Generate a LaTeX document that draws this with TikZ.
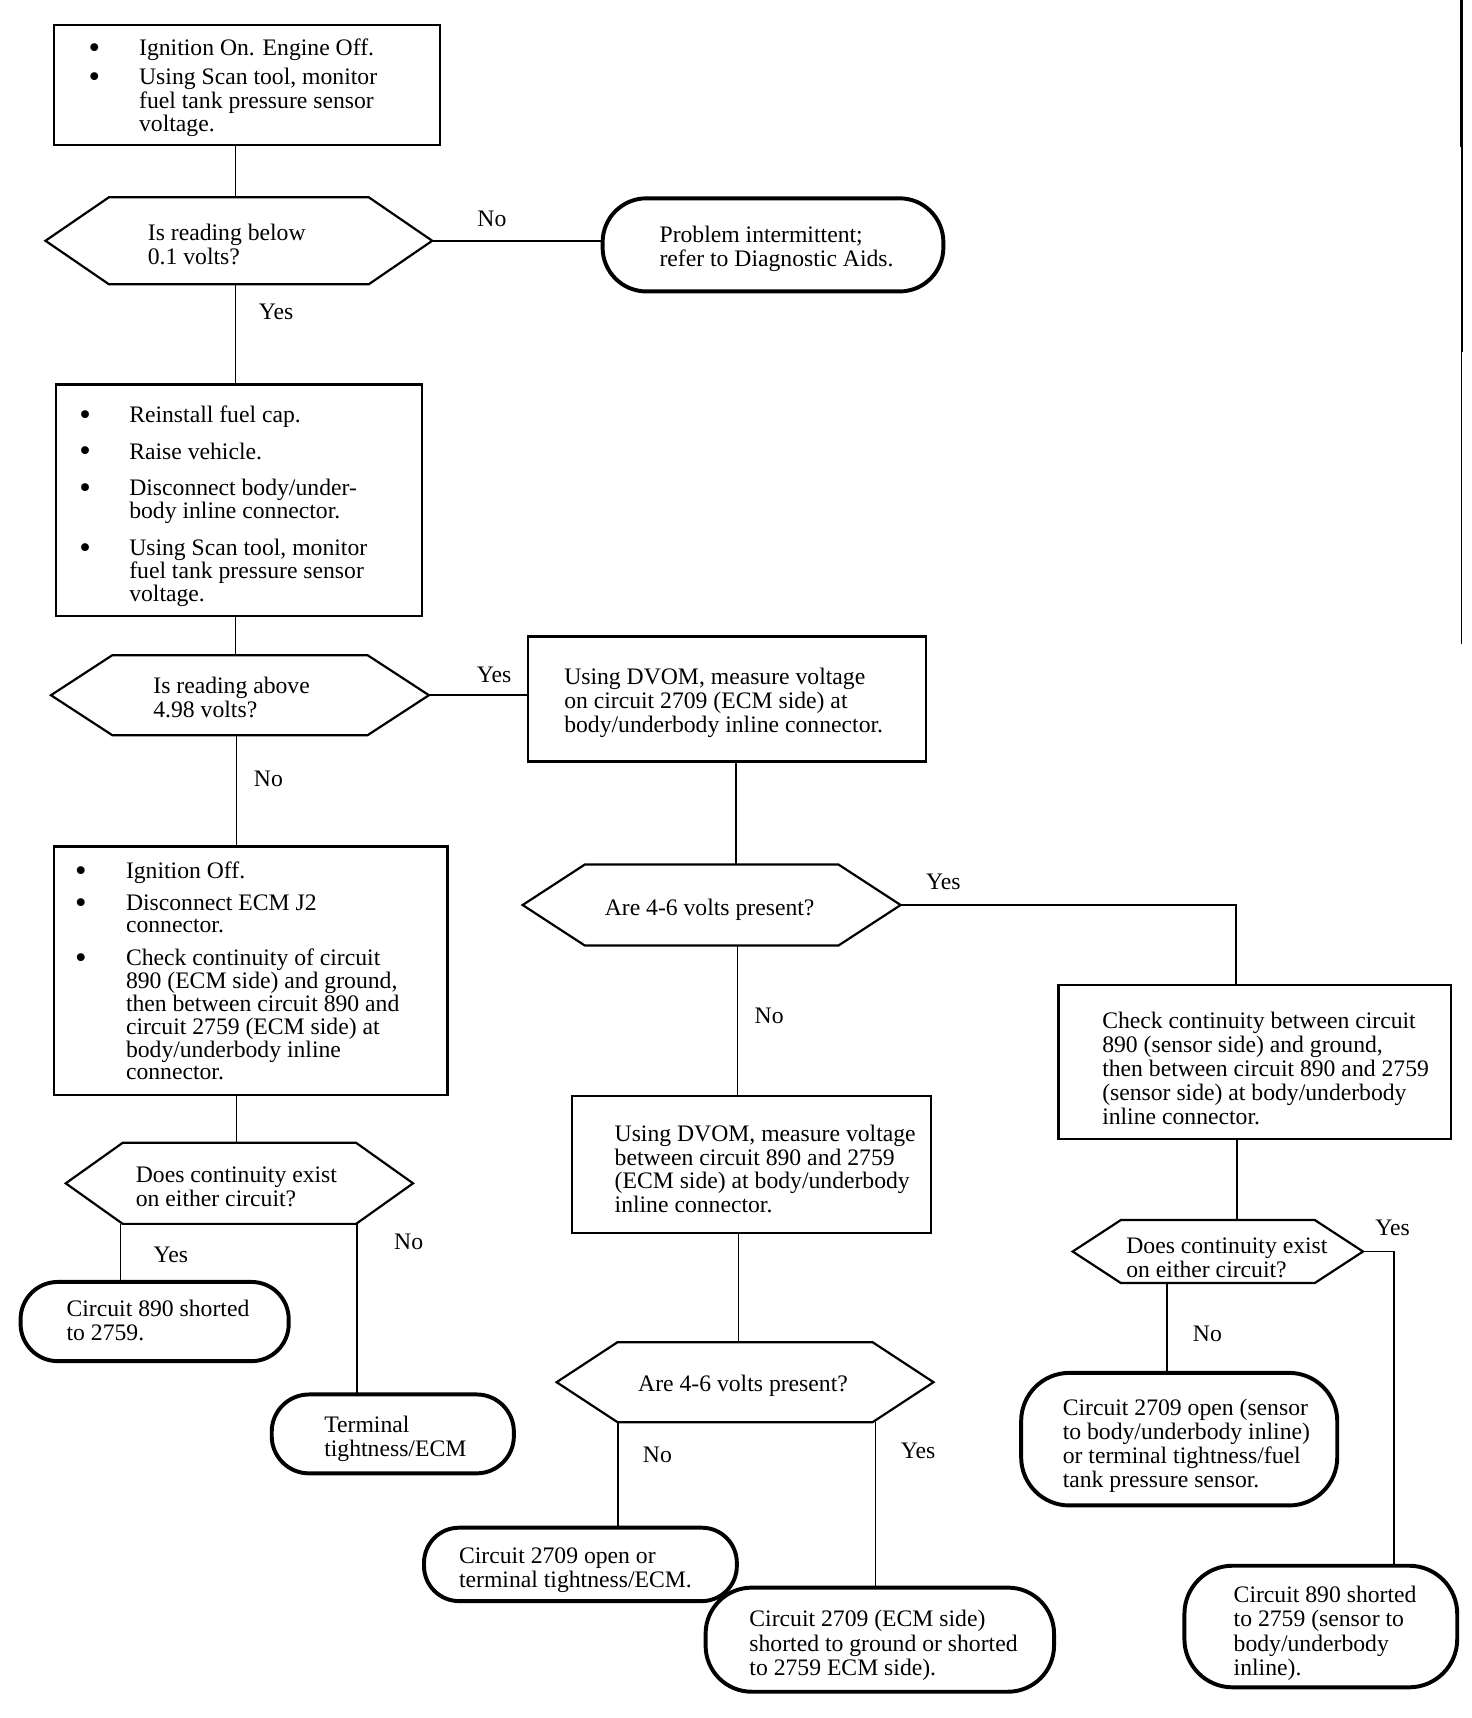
\documentclass[tikz,border=0pt]{standalone}
\usepackage{fontspec}
\setmainfont{Liberation Serif}
\usetikzlibrary{calc}
\newcommand{\ptxt}[3]{\hspace*{#1}\raisebox{-#2}[\height][\depth]{\begin{tabular}{@{}l@{}}#3\end{tabular}}}
\newcommand{\btxt}[3]{\hspace*{#1}\raisebox{-#2}[\height][\depth]{\begin{tabular}{@{}l@{}l@{}}#3\end{tabular}}}
\newcommand{\bl}[1]{\makebox[#1][l]{\raisebox{-1.3pt}{\fontsize{15}{10}\selectfont\textbullet}}}
\newcommand{\hexdraw}[2]{\draw[hexline] (#1.west) -- ([xshift=#2]#1.north west) -- ([xshift=-#2]#1.north east) -- (#1.east) -- ([xshift=-#2]#1.south east) -- ([xshift=#2]#1.south west) -- cycle;}
\tikzset{
  base/.style={inner sep=0pt, outer sep=0pt, anchor=north west, font=\fontsize{10.8}{11}\selectfont},
  boxst/.style={base, draw, line width=1pt},
  lboxst/.style={boxst, font=\fontsize{10.8}{10}\selectfont},
  hexst/.style={base},
  hexline/.style={line width=1pt, line join=miter},
  term/.style={base, draw, line width=1.8pt},
  conn/.style={line width=0.75pt},
  lab/.style={inner sep=0pt, font=\fontsize{10.8}{11}\selectfont},
}
\begin{document}
\begin{tikzpicture}[x=0.5pt, y=-0.5pt]
\fill[white] (0,0) rectangle (1343,1568);
\useasboundingbox (0,0) rectangle (1343,1568);

% scan edge line at right
\draw[line width=1.2pt] (1334,0) -- (1334,134);
\draw[line width=0.8pt] (1334,134) -- (1334,321);
\draw[line width=0.5pt] (1334,321) -- (1334,588);

% ---- boxes ----
\node[lboxst, minimum width=176pt, minimum height=55pt] (b1) at (49.5,22.5)
 {\makebox[176pt][l]{\btxt{15.75pt}{1.5pt}{
 \bl{23pt} & Ignition On. Engine Off.\\[3pt]
 \bl{23pt} & Using Scan tool, monitor\\
 & fuel tank pressure sensor\\
 & voltage.}}};

\node[lboxst, minimum width=167pt, minimum height=105.75pt] (b2) at (51,351)
 {\makebox[167pt][l]{\btxt{10.75pt}{3pt}{
 \bl{22.75pt} & Reinstall fuel cap.\\[6.3pt]
 \bl{22.75pt} & Raise vehicle.\\[6.3pt]
 \bl{22.75pt} & Disconnect body/under-\\
 & body inline connector.\\[6.3pt]
 \bl{22.75pt} & Using Scan tool, monitor\\
 & fuel tank pressure sensor\\
 & voltage.}}};

\node[boxst, minimum width=181.5pt, minimum height=57pt] (b3) at (482,581)
 {\makebox[181.5pt][l]{\ptxt{16.5pt}{2pt}{Using DVOM, measure voltage\\on circuit 2709 (ECM side) at\\body/underbody inline connector.}}};

\node[lboxst, minimum width=179.5pt, minimum height=113.5pt] (b4) at (49.5,772.5)
 {\makebox[179.5pt][l]{\btxt{9.5pt}{1.5pt}{
 \bl{23.25pt} & Ignition Off.\\[4.5pt]
 \bl{23.25pt} & Disconnect ECM J2\\
 & connector.\\[4.5pt]
 \bl{23.25pt} & Check continuity of circuit\\
 & 890 (ECM side) and ground,\\
 & then between circuit 890 and\\
 & circuit 2759 (ECM side) at\\
 & body/underbody inline\\
 & connector.}}};

\node[boxst, minimum width=164pt, minimum height=62.5pt, font=\fontsize{10.8}{10.8}\selectfont] (b5) at (522,1000.5)
 {\makebox[164pt][l]{\ptxt{19.5pt}{3.5pt}{Using DVOM, measure voltage\\between circuit 890 and 2759\\(ECM side) at body/underbody\\inline connector.}}};

\node[boxst, minimum width=179.25pt, minimum height=70.25pt] (b6) at (966,899)
 {\makebox[179.25pt][l]{\ptxt{20pt}{4.5pt}{Check continuity between circuit\\890 (sensor side) and ground,\\then between circuit 890 and 2759\\(sensor side) at body/underbody\\inline connector.}}};

% ---- hexagons ----
\node[hexst, minimum width=176.5pt, minimum height=39.75pt] (h1) at (41.5,180)
 {\makebox[176.5pt][l]{\ptxt{46.75pt}{3pt}{Is reading below\\0.1 volts?}}};
\hexdraw{h1}{29pt}

\node[hexst, minimum width=172.5pt, minimum height=36.5pt] (h2) at (46.5,598)
 {\makebox[172.5pt][l]{\ptxt{46.75pt}{2.5pt}{Is reading above\\4.98 volts?}}};
\hexdraw{h2}{28pt}

\node[hexst, minimum width=172.5pt, minimum height=37pt] (h3) at (477,789)
 {\makebox[172.5pt][l]{\ptxt{37.5pt}{2.5pt}{Are 4-6 volts present?}}};
\hexdraw{h3}{28.4pt}

\node[hexst, minimum width=158.5pt, minimum height=37pt] (h4) at (60,1043)
 {\makebox[158.5pt][l]{\ptxt{32pt}{3pt}{Does continuity exist\\on either circuit?}}};
\hexdraw{h4}{26pt}

\node[hexst, minimum width=172pt, minimum height=36.5pt] (h5) at (508,1225)
 {\makebox[172pt][l]{\ptxt{37.25pt}{2pt}{Are 4-6 volts present?}}};
\hexdraw{h5}{27.8pt}

\node[hexst, minimum width=132.5pt, minimum height=28.75pt] (h6) at (979,1113.5)
 {\makebox[132.5pt][l]{\ptxt{24.5pt}{4pt}{Does continuity exist\\on either circuit?}}};
\hexdraw{h6}{22pt}

% ---- terminators ----
\node[term, rounded corners=20pt, minimum width=155.5pt, minimum height=42.5pt] (t1) at (550,181)
 {\makebox[155.5pt][l]{\ptxt{26pt}{2pt}{Problem intermittent;\\refer to Diagnostic Aids.}}};

\node[term, rounded corners=17pt, minimum width=122.35pt, minimum height=36.15pt] (t2) at (18.8,1170)
 {\makebox[122.35pt][l]{\ptxt{21pt}{1pt}{Circuit 890 shorted\\to 2759.}}};

\node[term, rounded corners=17pt, minimum width=110.5pt, minimum height=36pt] (t3) at (248,1272.7)
 {\makebox[110.5pt][l]{\ptxt{24pt}{2.5pt}{Terminal\\tightness/ECM}}};

\node[term, rounded corners=16pt, minimum width=142.75pt, minimum height=33.5pt] (t4) at (387,1394.3)
 {\makebox[142.75pt][l]{\ptxt{16pt}{3pt}{Circuit 2709 open or\\terminal tightness/ECM.}}};

\node[term, rounded corners=21pt, minimum width=159pt, minimum height=47.5pt] (t5) at (644,1449)
 {\makebox[159pt][l]{\ptxt{20pt}{3pt}{Circuit 2709 (ECM side)\\shorted to ground or shorted\\to 2759 ECM side).}}};

\node[term, rounded corners=22pt, minimum width=144.25pt, minimum height=60.5pt] (t6) at (932,1253)
 {\makebox[144.25pt][l]{\ptxt{19pt}{3.5pt}{Circuit 2709 open (sensor\\to body/underbody inline)\\or terminal tightness/fuel\\tank pressure sensor.}}};

\node[term, rounded corners=22pt, minimum width=124.5pt, minimum height=55.5pt] (t7) at (1081,1429)
 {\makebox[124.5pt][l]{\ptxt{22.5pt}{3.5pt}{Circuit 890 shorted\\to 2759 (sensor to\\body/underbody\\inline).}}};

% ---- connectors ----
\draw[conn] (215,0 |- b1.south) -- (215,0 |- h1.north);
\draw[conn] (h1.east) -- (h1.east -| t1.west);
\draw[conn] (215,0 |- h1.south) -- (215,0 |- b2.north);
\draw[conn] (215,0 |- b2.south) -- (215,0 |- h2.north);
\draw[conn] (h2.east) -- (h2.east -| b3.west);
\draw[conn] (216,0 |- h2.south) -- (216,0 |- b4.north);
\draw[conn] (672,0 |- b3.south) -- (672,0 |- h3.north);
\coordinate (k1) at (1128,0 |- h3.east);
\draw[conn] (h3.east) -- (k1) -- (k1 |- b6.north);
\draw[conn] (673,0 |- h3.south) -- (673,0 |- b5.north);
\draw[conn] (216,0 |- b4.south) -- (216,0 |- h4.north);
\draw[conn] (110,0 |- h4.south) -- (110,0 |- t2.north);
\draw[conn] (326,0 |- h4.south) -- (326,0 |- t3.north);
\draw[conn] (674,0 |- b5.south) -- (674,0 |- h5.north);
\draw[conn] (564,0 |- h5.south) -- (564,0 |- t4.north);
\draw[conn] (799,0 |- h5.south) -- (799,0 |- t5.north);
\draw[conn] (1129,0 |- b6.south) -- (1129,0 |- h6.north);
\coordinate (k2) at (1272,0 |- h6.east);
\draw[conn] (h6.east) -- (k2) -- (k2 |- t7.north);
\draw[conn] (1065,0 |- h6.south) -- (1065,0 |- t6.north);

% ---- labels ----
\node[lab] (l1) at (449,200) {No};
\node[lab] (l2) at (252,285) {Yes};
\node[lab] (l3) at (451,616) {Yes};
\node[lab] (l4) at (245,711) {No};
\node[lab] (l5) at (861,805) {Yes};
\node[lab] (l6) at (702,927) {No};
\node[lab] (l7) at (156,1145) {Yes};
\node[lab] (l8) at (373,1133) {No};
\node[lab] (l9) at (600,1328) {No};
\node[lab] (l10) at (838,1324) {Yes};
\node[lab] (l11) at (1271,1121) {Yes};
\node[lab] (l12) at (1102,1217) {No};
\end{tikzpicture}
\end{document}
